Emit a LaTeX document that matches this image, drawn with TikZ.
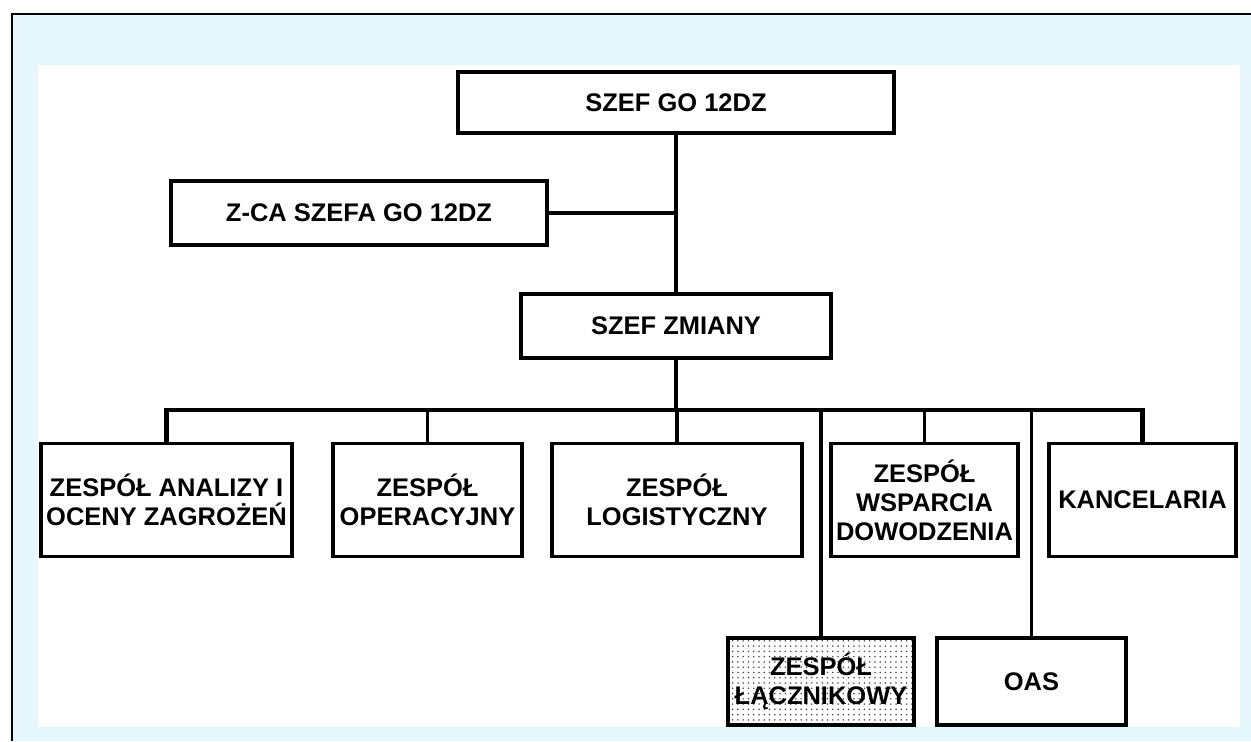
\documentclass[tikz,border=0pt]{standalone}
\usepackage{fontspec}
\setmainfont{Liberation Sans}
\usetikzlibrary{patterns}

\begin{document}
\begin{tikzpicture}[x=0.02cm,y=-0.02cm,
    unit/.style={draw,line width=2.2pt,align=center,inner sep=0pt,
      font=\bfseries\fontsize{14.5}{16.5}\selectfont},
    link/.style={line width=2.2pt}]
  % scan margin and frame
  \useasboundingbox (0,0) rectangle (1251,741);
  \fill[cyan!10] (12,14) rectangle (1251,741);
  \fill[white] (38,65) rectangle (1240,727);
  \draw[line width=1.6pt] (12,741) -- (12,14) -- (1251,14);

  \node[unit,minimum width=8.72cm,minimum height=1.22cm] (szef) at (676,102.5) {SZEF GO 12DZ};
  \node[unit,minimum width=7.52cm,minimum height=1.28cm] (zca) at (359,213) {Z-CA SZEFA GO 12DZ};
  \node[unit,minimum width=6.2cm,minimum height=1.28cm] (zmiana) at (676,326) {SZEF ZMIANY};

  \node[unit,minimum width=5.02cm,minimum height=2.26cm] (analiza) at (166.5,500) {ZESPÓŁ ANALIZY I\\OCENY ZAGROŻEŃ};
  \node[unit,minimum width=3.78cm,minimum height=2.26cm] (operacje) at (427.5,500) {ZESPÓŁ\\OPERACYJNY};
  \node[unit,minimum width=5.0cm,minimum height=2.26cm] (logistyka) at (677,500) {ZESPÓŁ\\LOGISTYCZNY};
  \node[unit,minimum width=3.74cm,minimum height=2.26cm] (wsparcie) at (924.5,500) {ZESPÓŁ\\WSPARCIA\\DOWODZENIA};
  \node[unit,minimum width=3.74cm,minimum height=2.26cm] (kancelaria) at (1142.5,500) {KANCELARIA};

  \node[unit,minimum width=3.72cm,minimum height=1.74cm,preaction={fill=white},
    pattern=dots,pattern color=black!70] (lacznik) at (821,681.5) {ZESPÓŁ\\ŁĄCZNIKOWY};
  \node[unit,minimum width=3.77cm,minimum height=1.74cm] (oas) at (1031.5,681.5) {OAS};

  \coordinate (bus) at (676,410);
  \draw[link] (szef.south) -- (zmiana.north);
  \draw[link] (zca.east) -- (zca.east -| szef.south);
  \draw[link] (zmiana.south) -- (zmiana.south |- bus);
  \draw[link,line width=2.6pt] (analiza.north) -- (analiza.north |- bus)
    -- (kancelaria.north |- bus) -- (kancelaria.north);
  \foreach \n in {operacje,logistyka,wsparcie,lacznik,oas}
    \draw[link] (\n.north |- bus) -- (\n.north);
\end{tikzpicture}
\end{document}
